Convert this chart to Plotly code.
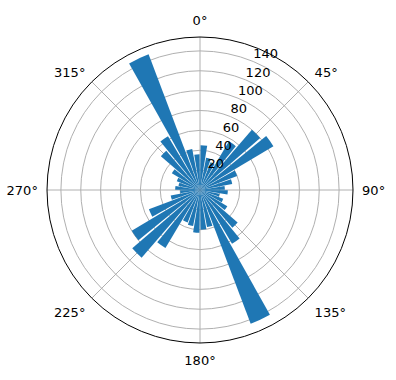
import plotly.graph_objects as go

# bar centers (degrees, clockwise from north) and heights
directions = [5, 15, 25, 35, 45, 55, 65, 75, 85,
              95, 105, 115, 125, 135, 145, 155, 165, 175,
              185, 195, 205, 215, 225, 235, 245, 255, 265,
              275, 285, 295, 305, 315, 325, 335, 345, 355]
counts = [45, 33, 30, 57, 80, 86, 40, 33, 25,
          28, 20, 25, 32, 50, 63, 144, 38, 40,
          43, 37, 35, 68, 90, 80, 55, 30, 20,
          25, 22, 25, 33, 52, 63, 146, 42, 36]
angle_ticks = [0, 45, 90, 135, 180, 225, 270, 315]
angle_labels = ["0°", "45°", "90°", "135°", "180°", "225°", "270°", "315°"]
r_ticks = [20, 40, 60, 80, 100, 120, 140]
r_label_angle = 22.5

fig = go.Figure()
fig.add_trace(go.Barpolar(
    r=counts, theta=directions, width=[8.5] * len(directions),
    marker=dict(color="#1f77b4", line=dict(width=0)),
    opacity=1, hoverinfo="r+theta",
))
# radial tick labels (matplotlib style, horizontal, at 22.5°)
fig.add_trace(go.Scatterpolar(
    r=r_ticks, theta=[r_label_angle] * len(r_ticks),
    mode="text", text=[str(v) for v in r_ticks],
    textposition="top right",
    textfont=dict(family="DejaVu Sans", size=13, color="black"),
    hoverinfo="skip",
))

W, H = 396, 380
cx, cy, R = 200, 190, 153
fig.update_layout(
    width=W, height=H,
    margin=dict(l=0, r=0, t=0, b=0),
    paper_bgcolor="white",
    showlegend=False,
    font=dict(family="DejaVu Sans", size=13, color="black"),
    polar=dict(
        domain=dict(x=[(cx - R) / W, (cx + R) / W],
                    y=[(H - cy - R) / H, (H - cy + R) / H]),
        bgcolor="white",
        bargap=0,
        angularaxis=dict(
            rotation=90, direction="clockwise",
            tickmode="array", tickvals=angle_ticks, ticktext=angle_labels,
            showgrid=True, gridcolor="#b0b0b0", gridwidth=0.8,
            showline=True, linecolor="black", linewidth=1,
            ticks="outside", ticklen=6, tickcolor="rgba(0,0,0,0)",
            tickfont=dict(size=13),
        ),
        radialaxis=dict(
            range=[0, 154], tickmode="array", tickvals=r_ticks,
            showticklabels=False,
            showgrid=True, gridcolor="#b0b0b0", gridwidth=0.8,
            showline=False, ticks="", angle=67.5,
        ),
    ),
)
fig.write_html("out.html")
